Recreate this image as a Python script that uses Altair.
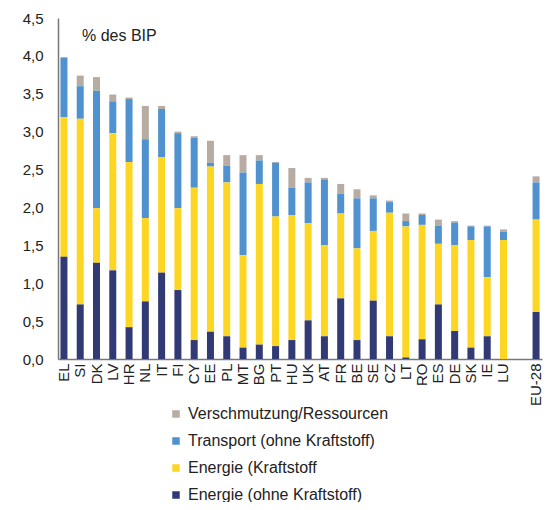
import altair as alt
import pandas as pd

countries = ["EL", "SI", "DK", "LV", "HR", "NL", "IT", "FI", "CY", "EE", "PL", "MT", "BG", "PT",
             "HU", "UK", "AT", "FR", "BE", "SE", "CZ", "LT", "RO", "ES", "DE", "SK", "IE", "LU", "EU-28"]
x_domain = countries[:-1] + [" "] + ["EU-28"]

energy_no_fuel = [1.35, 0.72, 1.27, 1.17, 0.42, 0.76, 1.14, 0.91, 0.25, 0.36, 0.30, 0.15, 0.19, 0.17,
                  0.25, 0.51, 0.30, 0.80, 0.25, 0.77, 0.30, 0.02, 0.26, 0.72, 0.37, 0.15, 0.30, 0.00, 0.62]
energy_fuel = [1.84, 2.45, 0.72, 1.81, 2.18, 1.10, 1.52, 1.08, 2.01, 2.18, 2.03, 1.22, 2.12, 1.71,
               1.65, 1.28, 1.20, 1.12, 1.21, 0.92, 1.63, 1.73, 1.51, 0.80, 1.13, 1.42, 0.78, 1.57, 1.22]
transport = [0.79, 0.43, 1.55, 0.42, 0.83, 1.04, 0.64, 0.99, 0.66, 0.05, 0.22, 1.09, 0.31, 0.71,
             0.36, 0.54, 0.87, 0.26, 0.66, 0.43, 0.14, 0.07, 0.13, 0.24, 0.30, 0.18, 0.67, 0.11, 0.49]
pollution = [0.00, 0.14, 0.18, 0.09, 0.02, 0.44, 0.04, 0.02, 0.02, 0.29, 0.14, 0.23, 0.07, 0.01,
             0.26, 0.06, 0.02, 0.13, 0.12, 0.04, 0.02, 0.10, 0.02, 0.08, 0.02, 0.01, 0.01, 0.03, 0.08]

series_names = ["Verschmutzung/Ressourcen", "Transport (ohne Kraftstoff)",
                "Energie (Kraftstoff", "Energie (ohne Kraftstoff)"]
series_colors = ["#B8ABA2", "#4F92CF", "#FDD523", "#313A74"]
series_values = [pollution, transport, energy_fuel, energy_no_fuel]
stack_order = [3, 2, 1, 0]

rows = []
for name, vals, o in zip(series_names, series_values, stack_order):
    for c, v in zip(countries, vals):
        rows.append({"country": c, "series": name, "value": v, "ord": o})
df = pd.DataFrame(rows)

y_ticks = [0, 0.5, 1.0, 1.5, 2.0, 2.5, 3.0, 3.5, 4.0, 4.5]

bars = alt.Chart(df).mark_bar().encode(
    x=alt.X("country:N", sort=x_domain,
            scale=alt.Scale(domain=x_domain, paddingInner=0.57, paddingOuter=0.15),
            axis=alt.Axis(title=None, labelAngle=-90, ticks=False, labelPadding=4,
                          domainColor="#777777", domainWidth=1.5, labelFontSize=15,
                          labelColor="#222222")),
    y=alt.Y("value:Q", stack="zero",
            scale=alt.Scale(domain=[0, 4.5], nice=False),
            axis=alt.Axis(title=None, values=y_ticks, grid=False, ticks=False,
                          labelExpr="replace(format(datum.value, '.1f'), '.', ',')",
                          domainColor="#777777", domainWidth=1.5, labelFontSize=15,
                          labelPadding=15, labelColor="#222222")),
    color=alt.Color("series:N",
                    scale=alt.Scale(domain=series_names, range=series_colors),
                    legend=alt.Legend(title=None, orient="none", legendX=110, legendY=388,
                                      symbolType="square", symbolSize=56, labelFontSize=16,
                                      labelLimit=300, labelOffset=4, rowPadding=11,
                                      symbolStrokeWidth=0, labelColor="#222222")),
    order=alt.Order("ord:Q", sort="ascending"),
)

title_text = alt.Chart(pd.DataFrame({"t": ["% des BIP"]})).mark_text(
    align="left", baseline="middle", fontSize=16, color="#222222"
).encode(x=alt.value(24), y=alt.value(18), text="t:N")

chart = alt.layer(bars, title_text).properties(
    width=484, height=341,
    autosize=alt.AutoSizeParams(type="none"),
    padding={"left": 50, "top": 10, "right": 4, "bottom": 143},
).configure(font="Liberation Sans").configure_view(stroke=None)

chart.save("out.html", embed_options={"renderer": "svg", "actions": False})
